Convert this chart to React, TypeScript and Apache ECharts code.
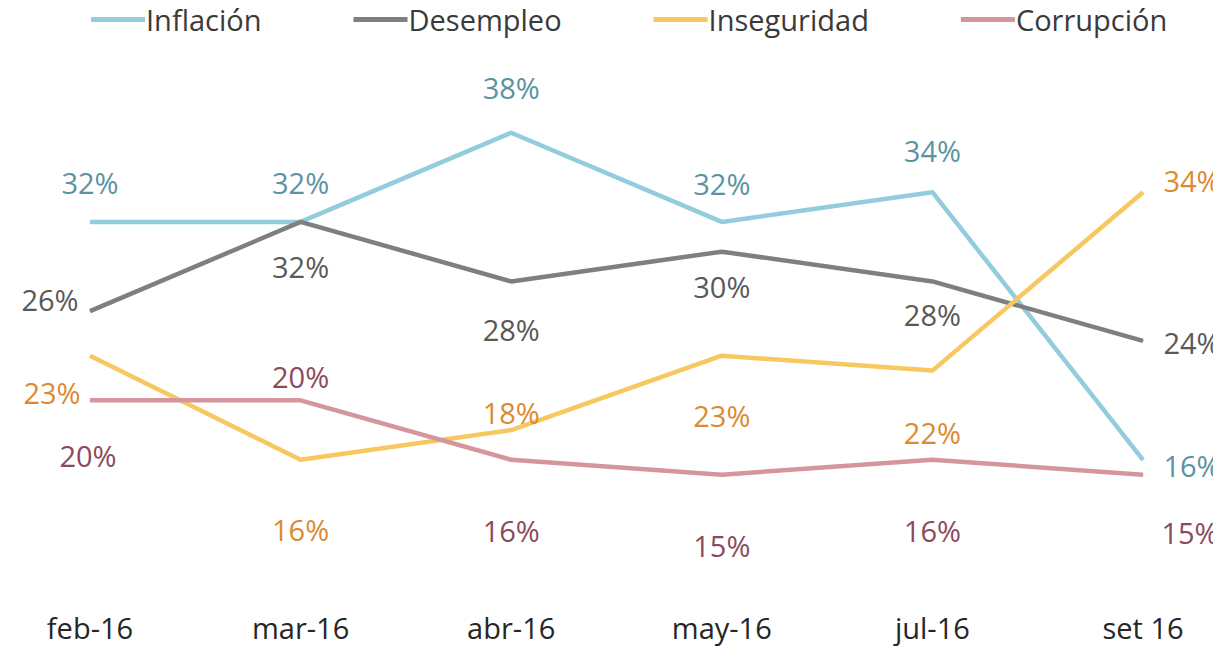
import React, { useEffect, useRef } from "react";
import * as echarts from "echarts";

const categories = ["feb-16", "mar-16", "abr-16", "may-16", "jul-16", "set 16"];
const inflacion = [32, 32, 38, 32, 34, 16];
const desempleo = [26, 32, 28, 30, 28, 24];
const inseguridad = [23, 16, 18, 23, 22, 34];
const corrupcion = [20, 20, 16, 15, 16, 15];

// label offsets (style): [dx, dy] from each point to label centre
const offInflacion = [[0, -39], [0, -39], [0, -45], [0, -38], [0, -42], [49, 6]];
const offDesempleo = [[-40, -12], [0, 45], [0, 48], [0, 35], [0, 33], [49, 2]];
const offInseguridad = [[-38, 37], [0, 70], [0, -18], [0, 60], [0, 62], [49, -12]];
const offCorrupcion = [[-2, 55], [0, -24], [0, 71], [0, 71], [0, 71], [47, 58]];

const FONT = "'Open Sans', 'Noto Sans', sans-serif";

function makeSeries(name: string, values: number[], offs: number[][], lineColor: string, labelColor: string) {
  return {
    name,
    type: "line",
    symbol: "circle",
    symbolSize: 1,
    showSymbol: true,
    lineStyle: { color: lineColor, width: 4.5 },
    itemStyle: { color: lineColor },
    data: values.map((v, i) => ({
      value: v,
      label: {
        show: true,
        position: "inside",
        offset: offs[i],
        formatter: (p: any) => `${p.value}%`,
        color: labelColor,
        fontSize: 29,
        fontFamily: FONT,
      },
    })),
  };
}

export default function App() {
  const ref = useRef<HTMLDivElement>(null);
  useEffect(() => {
    if (!ref.current) return;
    const chart = echarts.init(ref.current, undefined, { renderer: "svg" });
    chart.setOption({
      animation: false,
      backgroundColor: "#ffffff",
      legend: {
        top: 0,
        left: 86,
        itemGap: 92,
        itemWidth: 54,
        itemHeight: 5,
        icon: "rect",
        textStyle: { fontSize: 29, color: "#3a3a3a", fontFamily: FONT, padding: [0, 0, 0, -4] },
        data: ["Inflación", "Desempleo", "Inseguridad", "Corrupción"],
      },
      grid: { left: 90, right: 78, top: 103, bottom: 105 },
      xAxis: {
        type: "category",
        data: categories,
        boundaryGap: false,
        axisLine: { show: false },
        axisTick: { show: false },
        splitLine: { show: false },
        axisLabel: { margin: 64, fontSize: 29, color: "#262626", fontFamily: FONT },
      },
      yAxis: {
        type: "value",
        min: 10,
        max: 40,
        show: false,
        splitLine: { show: false },
      },
      series: [
        makeSeries("Inflación", inflacion, offInflacion, "#93cddd", "#5b93a3"),
        makeSeries("Desempleo", desempleo, offDesempleo, "#7f7f7f", "#595959"),
        makeSeries("Inseguridad", inseguridad, offInseguridad, "#f6c85f", "#dc8a30"),
        makeSeries("Corrupción", corrupcion, offCorrupcion, "#d4969c", "#8c4a5c"),
      ],
    });
    return () => chart.dispose();
  }, []);
  return <div ref={ref} style={{ width: 1221, height: 654, margin: -8 }} />;
}
